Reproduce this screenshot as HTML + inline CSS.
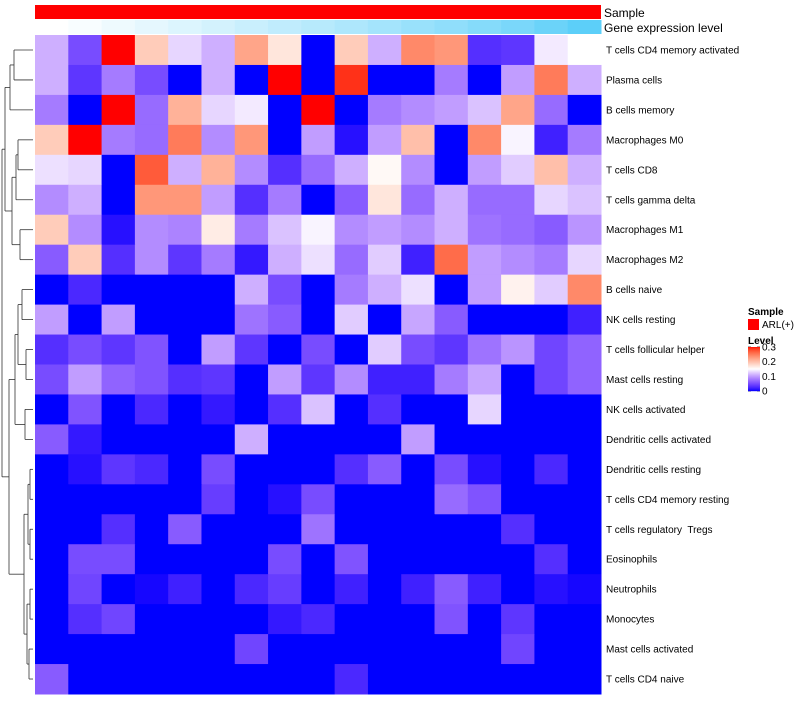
<!DOCTYPE html>
<html><head><meta charset="utf-8"><style>
body{margin:0;background:#fff;width:800px;height:700px;overflow:hidden;font-family:"Liberation Sans",sans-serif}
svg text{font-family:"Liberation Sans",sans-serif;white-space:pre}
</style></head><body>
<svg id="chart" width="800" height="700" xmlns="http://www.w3.org/2000/svg"></svg>
<script>
const rowLabels=["T cells CD4 memory activated","Plasma cells","B cells memory","Macrophages M0","T cells CD8","T cells gamma delta","Macrophages M1","Macrophages M2","B cells naive","NK cells resting","T cells follicular helper","Mast cells resting","NK cells activated","Dendritic cells activated","Dendritic cells resting","T cells CD4 memory resting","T cells regulatory\u00a0 Tregs","Eosinophils","Neutrophils","Monocytes","Mast cells activated","T cells CD4 naive"];
const geneLevels=[0,0.04,0.09,0.14,0.19,0.24,0.29,0.34,0.39,0.44,0.49,0.55,0.6,0.66,0.72,0.8,0.88];
const values=[
[.11,.05,.3,.19,.13,.11,.22,.17,0,.19,.11,.24,.23,.03,.035,.14,.15],
[.11,.035,.08,.05,0,.11,0,.3,0,.29,0,0,.08,0,.1,.25,.11],
[.08,0,.3,.07,.21,.13,.14,0,.3,0,.08,.09,.1,.12,.22,.07,0],
[.19,.3,.08,.07,.25,.09,.23,0,.1,.01,.1,.2,0,.24,.145,.02,.08],
[.135,.13,0,.27,.11,.21,.09,.03,.07,.11,.155,.09,0,.1,.125,.2,.11],
[.09,.11,0,.23,.23,.1,.03,.08,0,.06,.17,.07,.11,.07,.07,.13,.12],
[.19,.09,.01,.09,.085,.165,.08,.12,.145,.09,.1,.09,.11,.075,.07,.06,.095],
[.06,.19,.03,.09,.035,.08,.015,.11,.135,.07,.125,.02,.26,.1,.09,.08,.13],
[0,.025,0,0,0,0,.11,.05,0,.08,.11,.135,0,.1,.16,.125,.24],
[.1,0,.1,0,0,0,.075,.06,0,.125,0,.105,.06,0,0,0,.02],
[.03,.05,.035,.055,0,.1,.035,0,.05,0,.125,.05,.035,.075,.095,.045,.065],
[.05,.1,.065,.055,.03,.035,0,.1,.035,.09,.02,.02,.08,.105,0,.045,.065],
[0,.055,0,.025,0,.015,0,.03,.12,0,.03,0,0,.13,0,0,0],
[.06,.015,0,0,0,0,.11,0,0,0,0,.1,0,0,0,0,0],
[0,.01,.035,.025,0,.05,0,0,0,.03,.06,0,.05,.01,0,.025,0],
[0,0,0,0,0,.04,0,.01,.05,0,0,0,.07,.055,0,0,0],
[0,0,.03,0,.06,0,0,0,.075,0,0,0,0,0,.03,0,0],
[0,.05,.05,0,0,0,0,.05,0,.055,0,0,0,0,0,.03,0],
[0,.045,0,.005,.02,0,.025,.04,0,.02,0,.02,.06,.02,0,.01,.005],
[0,.03,.045,0,0,0,0,.015,.025,0,0,0,.055,0,.035,0,0],
[0,0,0,0,0,0,.045,0,0,0,0,0,0,0,.045,0,0],
[.06,0,0,0,0,0,0,0,0,.025,0,0,0,0,0,0,0]];
const legendTicks=[0,0.1,0.2,0.3];

const NS="http://www.w3.org/2000/svg";
const svg=document.getElementById('chart');
function el(t,a){const e=document.createElementNS(NS,t);for(const k in a)e.setAttribute(k,a[k]);svg.appendChild(e);return e;}
function toLin(c){c/=255;return c<=0.04045?c/12.92:Math.pow((c+0.055)/1.055,2.4);}
function fromLin(c){c=c<=0.0031308?12.92*c:1.055*Math.pow(c,1/2.4)-0.055;return Math.max(0,Math.min(255,Math.round(c*255)));}
function rgb2lab(r,g,b){r=toLin(r);g=toLin(g);b=toLin(b);
let x=(r*0.4124+g*0.3576+b*0.1805)/0.95047,y=r*0.2126+g*0.7152+b*0.0722,z=(r*0.0193+g*0.1192+b*0.9505)/1.08883;
const f=t=>t>0.008856?Math.cbrt(t):7.787*t+16/116;x=f(x);y=f(y);z=f(z);return [116*y-16,500*(x-y),200*(y-z)];}
function lab2rgb(L,a,bb){let y=(L+16)/116,x=a/500+y,z=y-bb/200;
const f=t=>t*t*t>0.008856?t*t*t:(t-16/116)/7.787;x=f(x)*0.95047;y=f(y);z=f(z)*1.08883;
const r=x*3.2406+y*-1.5372+z*-0.4986,g=x*-0.9689+y*1.8758+z*0.0415,b=x*0.0557+y*-0.2040+z*1.0570;
return `rgb(${fromLin(r)},${fromLin(g)},${fromLin(b)})`;}
const LB=rgb2lab(0,0,255),LW=rgb2lab(255,255,255),LR=rgb2lab(255,0,0);
function color(v){v=Math.max(0,Math.min(0.3,v));let A,B,t;
if(v<=0.15){A=LB;B=LW;t=Math.pow(v/0.15,1.35);}else{A=LW;B=LR;t=(v-0.15)/0.15;}
return lab2rgb(A[0]+(B[0]-A[0])*t,A[1]+(B[1]-A[1])*t,A[2]+(B[2]-A[2])*t);}
function geneColor(v){const r=Math.round(255+(70-255)*v),g=Math.round(255+(200-255)*v),b=Math.round(255+(248-255)*v);return `rgb(${r},${g},${b})`;}

const X0=35,X1=601,Y0=35,Y1=694;
const nC=values[0].length,nR=rowLabels.length;
const cw=(X1-X0)/nC,rh=(Y1-Y0)/nR;
const xS=i=>X0+i*cw, yS=j=>Y0+j*rh;

let a=el('rect',{x:X0,y:5,width:X1-X0,height:14,fill:'#ff0000'});


geneLevels.forEach((g,i)=>{const r=el('rect',{x:xS(i),y:20,width:cw+0.5,height:14,fill:geneColor(g)});

});
let t=el('text',{x:604,y:17,'font-size':12,fill:'#000'});t.textContent='Sample';


t=el('text',{x:604,y:32,'font-size':12,fill:'#000'});t.textContent='Gene expression level';



values.forEach((row,j)=>row.forEach((v,i)=>{
const r=el('rect',{x:xS(i),y:yS(j),width:cw+0.5,height:rh+0.5,fill:color(v)});

}));
rowLabels.forEach((l,j)=>{const tx=el('text',{x:606,y:yS(j)+rh/2+3.5,'font-size':10,fill:'#000'});tx.textContent=l;

});

const yc=j=>yS(j)+rh/2;
const g=document.createElementNS(NS,'g');g.setAttribute('stroke','#333');g.setAttribute('stroke-width','0.8');g.setAttribute('fill','none');


svg.appendChild(g);
function ln(x1,y1,x2,y2){const l=document.createElementNS(NS,'line');l.setAttribute('x1',x1);l.setAttribute('y1',y1);l.setAttribute('x2',x2);l.setAttribute('y2',y2);g.appendChild(l);}
function merge(ya,xa,yb,xb,xm){ln(xa,ya,xm,ya);ln(xb,yb,xm,yb);ln(xm,ya,xm,yb);return [(ya+yb)/2,xm];}
const L=33;
let n12=merge(yc(0),L,yc(1),L,14);
let n3=merge(n12[0],14,yc(2),L,10);
let n45=merge(yc(3),L,yc(4),L,18);
let n456=merge(n45[0],18,yc(5),L,16);
let n78=merge(yc(6),L,yc(7),L,20);
let nA=merge(n456[0],16,n78[0],20,12);
let nTop=merge(n3[0],10,nA[0],12,5);
let nb=merge(yc(8),L,yc(9),L,22);
let nc=merge(yc(10),L,yc(11),L,26);
let nd=merge(nb[0],22,nc[0],26,18);
let ne=merge(yc(12),L,yc(13),L,25);
let nf=merge(nd[0],18,ne[0],25,15);
let ng=merge(yc(14),L,yc(15),L,30);
let nh=merge(yc(16),L,yc(17),L,30);
let ni=merge(ng[0],30,nh[0],30,28);
let nj=merge(yc(18),L,yc(19),L,30);
let nk=merge(yc(20),L,yc(21),L,29);
let nl=merge(nj[0],30,nk[0],29,27);
let nm=merge(ni[0],28,nl[0],27,24);
let nn=merge(nf[0],15,nm[0],24,9);
merge(nTop[0],5,nn[0],9,2);

t=el('text',{x:748,y:315,'font-size':10,'font-weight':'bold',fill:'#000'});t.textContent='Sample';


a=el('rect',{x:748,y:319,width:11,height:11,fill:'#ff0000'});


t=el('text',{x:762,y:328,'font-size':10,fill:'#000'});t.textContent='ARL(+)';


t=el('text',{x:748,y:344,'font-size':10,'font-weight':'bold',fill:'#000'});t.textContent='Level';


const LG0=347,LG1=391;
for(let k=0;k<44;k++){const v=0.3-(k+0.5)/44*0.3;const r=el('rect',{x:748,y:LG0+k,width:12,height:1.2,fill:color(v)});

}
legendTicks.forEach(v=>{const y=LG1-(v/0.3)*(LG1-LG0);
const tx=el('text',{x:762,y:y+3.5,'font-size':10,fill:'#000'});tx.textContent=v===0?'0':v.toFixed(1);


ln(748,y,751,y);ln(757,y,760,y);});
</script>
</body></html>
